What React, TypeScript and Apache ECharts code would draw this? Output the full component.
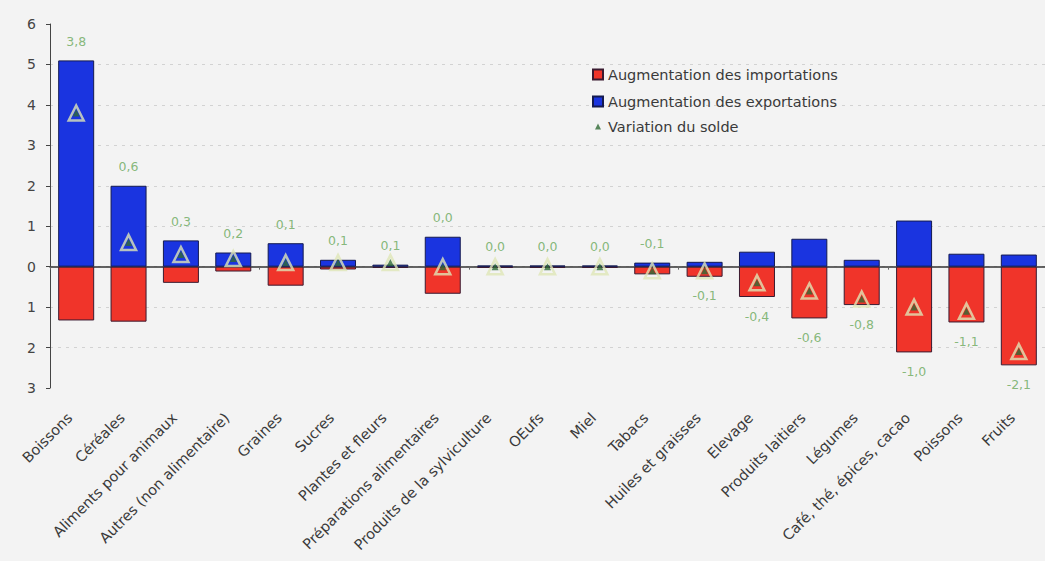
import React, { useEffect, useRef } from "react";
import * as echarts from "echarts";

const categories = [
  "Boissons",
  "Céréales",
  "Aliments pour animaux",
  "Autres (non alimentaire)",
  "Graines",
  "Sucres",
  "Plantes et fleurs",
  "Préparations alimentaires",
  "Produits de la sylviculture",
  "OEufs",
  "Miel",
  "Tabacs",
  "Huiles et graisses",
  "Elevage",
  "Produits laitiers",
  "Légumes",
  "Café, thé, épices, cacao",
  "Poissons",
  "Fruits",
];
const exportsInc = [5.1, 2.0, 0.65, 0.35, 0.58, 0.17, 0.05, 0.74, 0.03, 0.03, 0.03, 0.1, 0.12, 0.37, 0.69, 0.17, 1.14, 0.32, 0.3];
const importsInc = [-1.33, -1.36, -0.4, -0.12, -0.47, -0.07, -0.03, -0.67, -0.03, -0.03, -0.03, -0.19, -0.25, -0.75, -1.28, -0.95, -2.12, -1.38, -2.44];
const balance = [3.8, 0.6, 0.3, 0.2, 0.1, 0.1, 0.1, 0.0, 0.0, 0.0, 0.0, -0.1, -0.1, -0.4, -0.6, -0.8, -1.0, -1.1, -2.1];
const yTicks = { min: -3, max: 6, interval: 1 };

const fmt = (v: number) => v.toFixed(1).replace(".", ",");

export default function App() {
  const ref = useRef<HTMLDivElement>(null);
  useEffect(() => {
    if (!ref.current) return;
    const chart = echarts.init(ref.current, undefined, { renderer: "svg" });
    const font = "'DejaVu Sans', Verdana, sans-serif";
    const labelData = balance.map((b, i) => {
      const above = i < 12;
      return {
        value: above ? exportsInc[i] : importsInc[i],
        label: { position: above ? "top" : "bottom" },
      };
    });
    chart.setOption({
      animation: false,
      backgroundColor: "#f3f3f3",
      textStyle: { fontFamily: font },
      grid: { left: 50, right: -5, top: 24, bottom: 173, containLabel: false },
      legend: [
        {
          orient: "vertical",
          left: 592,
          top: 67,
          padding: 0,
          itemWidth: 10,
          itemHeight: 10,
          itemGap: 12,
          icon: "rect",
          textStyle: { fontSize: 14.5, color: "#3a3a3a", fontFamily: font },
          data: ["Augmentation des importations", "Augmentation des exportations"],
        },
        {
          orient: "vertical",
          left: 595,
          top: 119,
          padding: 0,
          itemWidth: 6,
          itemHeight: 6,
          itemGap: 0,
          textStyle: { fontSize: 14.5, color: "#3a3a3a", fontFamily: font, padding: [0, 0, 0, 2] },
          data: [{ name: "Variation du solde", icon: "triangle" }],
        },
      ],
      xAxis: [
        {
          type: "category",
          data: categories,
          axisLine: { onZero: true, lineStyle: { color: "#333", width: 1.5 } },
          axisTick: { show: true, length: 3, lineStyle: { color: "#666" } },
          axisLabel: { show: false },
        },
        {
          type: "category",
          data: categories,
          position: "bottom",
          axisLine: { show: false, onZero: false },
          axisTick: { show: false },
          axisLabel: {
            rotate: 45,
            fontSize: 14.5,
            color: "#3a3a3a",
            margin: 21,
            padding: [0, 9, 0, 0],
            interval: 0,
            fontFamily: font,
          },
        },
      ],
      yAxis: {
        type: "value",
        min: yTicks.min,
        max: yTicks.max,
        interval: yTicks.interval,
        axisLine: { show: true, lineStyle: { color: "#444" } },
        axisTick: { show: true, length: 4, lineStyle: { color: "#444" } },
        axisLabel: {
          formatter: (v: number) => String(Math.abs(v)),
          fontSize: 14,
          color: "#444",
          margin: 14,
          fontFamily: font,
        },
        splitLine: {
          show: true,
          showMinLine: false,
          showMaxLine: false,
          lineStyle: { color: "#d2d2d2", type: [3, 5] },
        },
      },
      series: [
        {
          name: "Augmentation des importations",
          type: "bar",
          stack: "t",
          data: importsInc,
          barWidth: 36,
          itemStyle: { color: "#f0342a", borderColor: "#3a1a30", borderWidth: 1 },
        },
        {
          name: "Augmentation des exportations",
          type: "bar",
          stack: "t",
          data: exportsInc,
          barWidth: 36,
          itemStyle: { color: "#1a34e0", borderColor: "#141a50", borderWidth: 1 },
        },
        {
          name: "outline",
          type: "scatter",
          data: balance,
          symbol: "triangle",
          symbolSize: 15,
          itemStyle: { color: "rgba(0,0,0,0)", borderColor: "#dfe6b6", borderWidth: 2.5 },
          z: 5,
          silent: true,
        },
        {
          name: "Variation du solde",
          type: "scatter",
          data: balance,
          symbol: "triangle",
          symbolSize: 7,
          itemStyle: { color: "#2f6a35" },
          z: 6,
        },
        {
          name: "labels",
          type: "scatter",
          data: labelData,
          symbol: "circle",
          symbolSize: 1,
          itemStyle: { color: "rgba(0,0,0,0)" },
          label: {
            show: true,
            distance: 12,
            fontSize: 12.5,
            color: "#69a85a",
            fontFamily: font,
            formatter: (p: any) => fmt(balance[p.dataIndex]),
          },
          z: 7,
          silent: true,
        },
      ],
    });
    return () => chart.dispose();
  }, []);
  return (
    <div
      ref={ref}
      style={{ position: "fixed", left: 0, top: 0, width: 1045, height: 561 }}
    />
  );
}
